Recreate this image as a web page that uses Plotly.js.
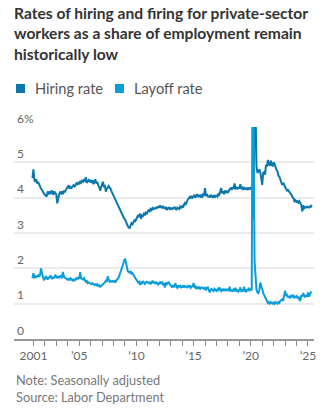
<!DOCTYPE html>
<html>
<head>
<meta charset="utf-8">
<script src="https://cdn.plot.ly/plotly-3.0.1.min.js"></script>
<style>
  html, body { margin: 0; padding: 0; background: #fff; }
  #chart { width: 336px; height: 417px; }
</style>
</head>
<body>
<div id="chart"></div>
<script>
// Monthly data, first observation December 2000, last May 2025
const startYear = 2000;
const startMonth = 12;

const hiringRate = [
  4.55,
  4.80, 4.50, 4.45, 4.52, 4.40, 4.45, 4.38, 4.30, 4.25, 4.22, 4.15, 4.12,
  4.08, 4.05, 4.03, 4.18, 4.12, 4.15, 4.10, 4.20, 4.16, 4.08, 4.18, 4.12,
  4.10, 3.84, 4.00, 4.08, 4.15, 4.12, 4.18, 4.10, 4.20, 4.15, 4.22, 4.26,
  4.30, 4.35, 4.25, 4.30, 4.28, 4.32, 4.35, 4.30, 4.38, 4.40, 4.36, 4.42,
  4.40, 4.45, 4.42, 4.48, 4.45, 4.50, 4.48, 4.58, 4.42, 4.45, 4.50, 4.46,
  4.48, 4.42, 4.50, 4.38, 4.45, 4.52, 4.40, 4.45, 4.35, 4.30, 4.20, 4.32,
  4.38, 4.45, 4.30, 4.36, 4.17, 4.25, 4.30, 4.33, 4.28, 4.25, 4.18, 4.12,
  4.05, 4.03, 3.95, 3.90, 3.82, 3.76, 3.72, 3.65, 3.58, 3.52, 3.48, 3.42,
  3.39, 3.30, 3.24, 3.20, 3.16, 3.13, 3.22, 3.28, 3.25, 3.32, 3.36, 3.34,
  3.42, 3.48, 3.51, 3.45, 3.55, 3.40, 3.50, 3.48, 3.55, 3.52, 3.58, 3.55,
  3.62, 3.66, 3.60, 3.68, 3.65, 3.70, 3.66, 3.72, 3.68, 3.74, 3.70, 3.76,
  3.72, 3.78, 3.74, 3.70, 3.76, 3.72, 3.68, 3.74, 3.65, 3.70, 3.72, 3.68,
  3.70, 3.66, 3.72, 3.68, 3.74, 3.70, 3.65, 3.72, 3.70, 3.68, 3.75, 3.72,
  3.76, 3.72, 3.80, 3.85, 3.82, 3.90, 3.95, 3.98, 4.02, 3.98, 4.05, 4.00,
  4.03, 4.08, 4.00, 4.05, 4.10, 4.02, 4.06, 4.03, 4.08, 4.00, 4.12, 4.05,
  4.27, 4.05, 4.10, 4.02, 4.06, 4.00, 4.08, 4.04, 4.02, 4.07, 4.00, 4.05,
  4.06, 4.03, 4.10, 4.08, 4.15, 4.27, 4.12, 4.18, 4.10, 4.20, 4.14, 4.18,
  4.15, 4.20, 4.22, 4.28, 4.22, 4.30, 4.25, 4.40, 4.26, 4.28, 4.24, 4.30,
  4.26, 4.38, 4.25, 4.28, 4.22, 4.30, 4.26, 4.24, 4.28, 4.22, 4.27, 4.25,
  4.28, 4.25, 4.05, 3.40, 7.00, 6.60, 4.90, 4.70, 4.75, 4.80, 4.72, 4.45,
  4.36, 4.70, 4.72, 4.65, 4.93, 4.88, 5.07, 4.95, 4.90, 5.05, 4.92, 4.90,
  5.00, 4.95, 4.85, 4.79, 4.75, 4.62, 4.60, 4.50, 4.45, 4.36, 4.42, 4.38,
  4.30, 4.25, 4.20, 4.22, 4.18, 4.17, 4.12, 4.07, 4.00, 3.98, 3.88, 3.92,
  3.88, 3.90, 3.86, 3.90, 3.85, 3.80, 3.61, 3.78, 3.70, 3.73, 3.72, 3.75,
  3.73, 3.72, 3.75, 3.74, 3.80
];

const layoffRate = [
  1.72,
  1.86, 1.72, 1.78, 1.75, 1.78, 1.80, 1.76, 1.82, 2.00, 1.85, 1.74, 1.68,
  1.70, 1.78, 1.72, 1.68, 1.76, 1.72, 1.80, 1.74, 1.70, 1.76, 1.72, 1.82,
  1.76, 1.72, 1.78, 1.74, 1.76, 1.80, 1.72, 1.90, 1.76, 1.74, 1.72, 1.70,
  1.68, 1.70, 1.66, 1.72, 1.68, 1.66, 1.70, 1.64, 1.68, 1.72, 1.70, 1.75,
  1.70, 1.89, 1.72, 1.70, 1.68, 1.72, 1.66, 1.62, 1.64, 1.58, 1.60, 1.58,
  1.58, 1.55, 1.58, 1.56, 1.53, 1.55, 1.52, 1.55, 1.50, 1.52, 1.48, 1.50,
  1.52, 1.55, 1.58, 1.60, 1.65, 1.62, 1.77, 1.66, 1.62, 1.64, 1.62, 1.64,
  1.62, 1.64, 1.60, 1.66, 1.68, 1.72, 1.78, 1.86, 1.92, 2.00, 2.10, 2.20,
  2.28, 2.18, 2.05, 1.92, 1.90, 1.88, 1.92, 1.85, 1.86, 1.80, 1.76, 1.72,
  1.68, 1.64, 1.60, 1.62, 1.53, 1.60, 1.58, 1.64, 1.60, 1.56, 1.60, 1.62,
  1.60, 1.58, 1.62, 1.55, 1.60, 1.65, 1.58, 1.62, 1.56, 1.60, 1.58, 1.54,
  1.58, 1.62, 1.56, 1.60, 1.55, 1.58, 1.46, 1.60, 1.55, 1.58, 1.62, 1.55,
  1.50, 1.48, 1.52, 1.46, 1.50, 1.58, 1.48, 1.45, 1.52, 1.48, 1.50, 1.46,
  1.48, 1.52, 1.45, 1.50, 1.48, 1.46, 1.50, 1.48, 1.52, 1.45, 1.48, 1.50,
  1.58, 1.45, 1.48, 1.42, 1.46, 1.44, 1.48, 1.42, 1.45, 1.46, 1.44, 1.42,
  1.45, 1.40, 1.44, 1.48, 1.38, 1.32, 1.40, 1.42, 1.38, 1.36, 1.42, 1.38,
  1.36, 1.40, 1.38, 1.46, 1.42, 1.36, 1.40, 1.38, 1.42, 1.36, 1.40, 1.38,
  1.40, 1.36, 1.48, 1.35, 1.38, 1.36, 1.40, 1.35, 1.45, 1.36, 1.38, 1.34,
  1.38, 1.46, 1.36, 1.38, 1.35, 1.48, 1.36, 1.34, 1.40, 1.36, 1.45, 1.38,
  1.40, 1.38, 8.90, 6.20, 2.20, 1.80, 1.40, 1.32, 1.30, 1.38, 1.60, 1.48,
  1.42, 1.30, 1.25, 1.18, 1.10, 1.04, 1.02, 1.05, 1.00, 1.04, 1.02, 1.00,
  1.03, 1.00, 1.05, 1.02, 1.00, 1.04, 1.02, 1.08, 1.10, 1.12, 1.08, 1.20,
  1.37, 1.22, 1.25, 1.18, 1.22, 1.15, 1.20, 1.25, 1.18, 1.22, 1.17, 1.20,
  1.22, 1.15, 1.20, 1.12, 1.08, 1.24, 1.20, 1.30, 1.22, 1.18, 1.24, 1.20,
  1.32, 1.20, 1.26, 1.32, 1.30
];

const seriesNames = ['Hiring rate', 'Layoff rate'];
const seriesColors = ['#0a78ad', '#0a9ddc'];

const yTickVals = [0, 1, 2, 3, 4, 5, 6];
const yTickText = ['0', '1', '2', '3', '4', '5', '6%'];

const xTickYears = [2001, 2002, 2003, 2004, 2005, 2006, 2007, 2008, 2009, 2010, 2011, 2012, 2013,
  2014, 2015, 2016, 2017, 2018, 2019, 2020, 2021, 2022, 2023, 2024, 2025];
const xTickLabels = {2001: '2001', 2005: '\u201905', 2010: '\u201910', 2015: '\u201915', 2020: '\u201920', 2025: '\u201925'};

const titleText = 'Rates of hiring and firing for private-sector<br>workers as a share of employment remain<br>historically low';
const noteText = 'Note: Seasonally adjusted';
const sourceText = 'Source: Labor Department';

// ---- build
function monthDate(i) {
  const m = startMonth - 1 + i;
  const y = startYear + Math.floor(m / 12);
  const mm = (m % 12) + 1;
  return y + '-' + String(mm).padStart(2, '0') + '-01';
}
const dates = hiringRate.map((_, i) => monthDate(i));

const W = 336, H = 417;
const M = {l: 14, r: 22, t: 127, b: 78};
const PW = W - M.l - M.r, PH = H - M.t - M.b;
const px = x => (x - M.l) / PW;
const py = y => (H - M.b - y) / PH;

const FONT = 'Lato, "Noto Sans", sans-serif';

const traces = [
  {x: dates, y: hiringRate, name: seriesNames[0], type: 'scatter', mode: 'lines',
   line: {color: seriesColors[0], width: 2}, showlegend: false, hoverinfo: 'skip'},
  {x: dates, y: layoffRate, name: seriesNames[1], type: 'scatter', mode: 'lines',
   line: {color: seriesColors[1], width: 2}, showlegend: false, hoverinfo: 'skip'}
];

const legendX = [[16, 25, 32.5], [115, 124, 131.5]];
const shapes = [];
const annotations = [];
seriesNames.forEach((n, i) => {
  shapes.push({type: 'rect', xref: 'paper', yref: 'paper',
    x0: px(legendX[i][0]), x1: px(legendX[i][1]), y0: py(93), y1: py(84),
    fillcolor: seriesColors[i], line: {width: 0}});
  annotations.push({xref: 'paper', yref: 'paper', x: px(legendX[i][2]), y: py(88.5),
    xanchor: 'left', yanchor: 'middle', showarrow: false, text: n,
    font: {family: FONT, size: 14.6, color: '#555'}});
});
annotations.push({xref: 'paper', yref: 'paper', x: px(14), y: py(380), xanchor: 'left', yanchor: 'middle',
  showarrow: false, text: noteText, font: {family: FONT, size: 12.8, color: '#777'}});
annotations.push({xref: 'paper', yref: 'paper', x: px(14), y: py(397), xanchor: 'left', yanchor: 'middle',
  showarrow: false, text: sourceText, font: {family: FONT, size: 12.8, color: '#777'}});

const layout = {
  width: W, height: H,
  margin: M,
  paper_bgcolor: '#fff', plot_bgcolor: '#fff',
  title: {text: titleText, xref: 'container', yref: 'container', x: 14 / W, xanchor: 'left',
    y: 1 - 19 / H, yanchor: 'top',
    font: {family: FONT, size: 15.6, color: '#333', weight: 'bold'}},
  xaxis: {
    type: 'date', range: ['1999-04-22', '2025-07-12'],
    tickmode: 'array',
    tickvals: xTickYears.map(y => y + '-01-01'),
    ticktext: xTickYears.map(y => xTickLabels[y] || ''),
    ticks: 'outside', ticklen: 5, tickwidth: 1, tickcolor: '#888',
    showline: true, linecolor: '#999', linewidth: 2,
    showgrid: false, zeroline: false,
    tickfont: {family: FONT, size: 12, color: '#666'}
  },
  yaxis: {
    range: [0, 6], tickmode: 'array', tickvals: yTickVals, ticktext: yTickText,
    ticklabelposition: 'inside top', ticklabeloverflow: 'allow', ticks: '',
    showgrid: true, gridcolor: '#ebebeb', gridwidth: 2,
    zeroline: false, showline: false,
    tickfont: {family: FONT, size: 12, color: '#666'}
  },
  shapes: shapes,
  annotations: annotations,
  showlegend: false
};

Plotly.newPlot('chart', traces, layout, {staticPlot: true, displayModeBar: false});
</script>
</body>
</html>
